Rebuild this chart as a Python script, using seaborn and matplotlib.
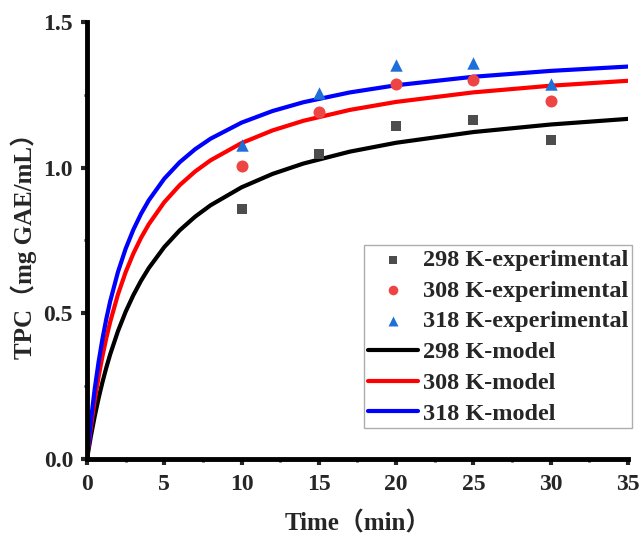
import numpy as np
import pandas as pd
import matplotlib
matplotlib.use("Agg")
import matplotlib.pyplot as plt
import seaborn as sns

# Measured total phenolic content at each extraction temperature
exp_time = [10, 15, 20, 25, 30]
tpc_298 = [0.858, 1.047, 1.144, 1.164, 1.095]
tpc_308 = [1.006, 1.192, 1.288, 1.301, 1.230]
tpc_318 = [1.078, 1.256, 1.351, 1.360, 1.288]

# Second-order kinetic model curves, sampled over the extraction time
model_time = [0, 0.25, 0.5, 0.75, 1, 1.25, 1.5, 2, 2.5, 3, 3.5, 4, 5, 6, 7, 8,
              10, 12, 14, 17, 20, 25, 30, 35]
model_298 = [0, 0.0778, 0.1467, 0.2084, 0.2637, 0.3137, 0.3591, 0.4383, 0.5053,
             0.5625, 0.6121, 0.6554, 0.7274, 0.7849, 0.8319, 0.8710, 0.9324,
             0.9783, 1.0140, 1.0548, 1.0853, 1.1221, 1.1480, 1.1673]
model_308 = [0, 0.1086, 0.2016, 0.2822, 0.3528, 0.4150, 0.4703, 0.5643, 0.6411,
             0.7052, 0.7594, 0.8058, 0.8813, 0.9400, 0.9869, 1.0253, 1.0843,
             1.1276, 1.1607, 1.1980, 1.2255, 1.2583, 1.2811, 1.2980]
model_318 = [0, 0.1312, 0.2405, 0.3330, 0.4123, 0.4810, 0.5411, 0.6413, 0.7215,
             0.7871, 0.8418, 0.8880, 0.9620, 1.0186, 1.0633, 1.0994, 1.1544,
             1.1942, 1.2244, 1.2580, 1.2827, 1.3118, 1.3320, 1.3468]

temps = ["298 K", "308 K", "318 K"]
exp_tpc = [tpc_298, tpc_308, tpc_318]
model_tpc = [model_298, model_308, model_318]

sns.set_style("ticks")
plt.rcParams["font.family"] = ["Liberation Serif", "Noto Sans CJK SC"]
plt.rcParams["font.weight"] = "bold"

fig = plt.figure(figsize=(6.42, 5.35), dpi=100)
ax = fig.add_axes([0.1355, 0.142, 0.8425, 0.817])

markers = ["s", "o", "^"]
marker_colors = ["#4d4d4d", "#ef4444", "#1e6fd8"]
marker_sizes = [62, 75, 80]
line_colors = ["#000000", "#ff0000", "#0000ff"]

exp_df = pd.DataFrame({
    "time": np.tile(exp_time, 3),
    "tpc": np.concatenate(exp_tpc),
    "series": np.repeat([f"{t}-experimental" for t in temps], len(exp_time)),
})
model_df = pd.DataFrame({
    "time": np.tile(model_time, 3),
    "tpc": np.concatenate(model_tpc),
    "series": np.repeat([f"{t}-model" for t in temps], len(model_time)),
})

for i, t in enumerate(temps):
    sub = model_df[model_df["series"] == f"{t}-model"]
    sns.lineplot(data=sub, x="time", y="tpc", color=line_colors[i], lw=3.0,
                 ax=ax, label=f"{t}-model", sort=True, zorder=2)

for i, t in enumerate(temps):
    sub = exp_df[exp_df["series"] == f"{t}-experimental"]
    sns.scatterplot(data=sub, x="time", y="tpc", marker=markers[i],
                    color=marker_colors[i], s=marker_sizes[i], linewidth=0,
                    ax=ax, label=f"{t}-experimental", zorder=3)

ax.set_xlim(0, 35)
ax.set_ylim(0, 1.5)
ax.set_xticks(np.arange(0, 36, 5))
ax.set_yticks([0.0, 0.5, 1.0, 1.5])
ax.set_xticks(np.arange(2.5, 35, 5), minor=True)
ax.set_yticks([0.25, 0.75, 1.25], minor=True)
ax.set_yticklabels(["0.0", "0.5", "1.0", "1.5"])

for side in ["top", "right"]:
    ax.spines[side].set_visible(False)
for side in ["left", "bottom"]:
    ax.spines[side].set_linewidth(3.5)
    ax.spines[side].set_color("black")

ax.tick_params(which="major", direction="out", length=4, width=3,
               labelsize=17)
ax.tick_params(axis="x", which="major", pad=7)
ax.tick_params(axis="y", which="major", pad=6)
ax.tick_params(which="minor", direction="out", length=2.5, width=2)
for lbl in ax.get_xticklabels() + ax.get_yticklabels():
    lbl.set_fontweight("bold")

ax.set_xlabel("Time（min）", fontsize=18, fontweight="bold", labelpad=12)
ax.set_ylabel("TPC（mg GAE/mL）", fontsize=18, fontweight="bold", labelpad=5)

# Experimental entries first, then the model curves
handles, labels = ax.get_legend_handles_labels()
order = [f"{t}-experimental" for t in temps] + [f"{t}-model" for t in temps]
hmap = dict(zip(labels, handles))
leg = ax.legend([hmap[k] for k in order], order, loc="lower right",
                bbox_to_anchor=(1.007, 0.07), borderaxespad=0,
                prop={"family": ["Liberation Serif"], "weight": "bold",
                      "size": 17.5},
                handlelength=2.05, handletextpad=0.2, labelspacing=0.36,
                borderpad=0.15, markerscale=0.8, frameon=True, fancybox=False)
leg.get_frame().set_edgecolor("#999999")
leg.get_frame().set_linewidth(1.0)

fig.savefig("out.png", dpi=100)
